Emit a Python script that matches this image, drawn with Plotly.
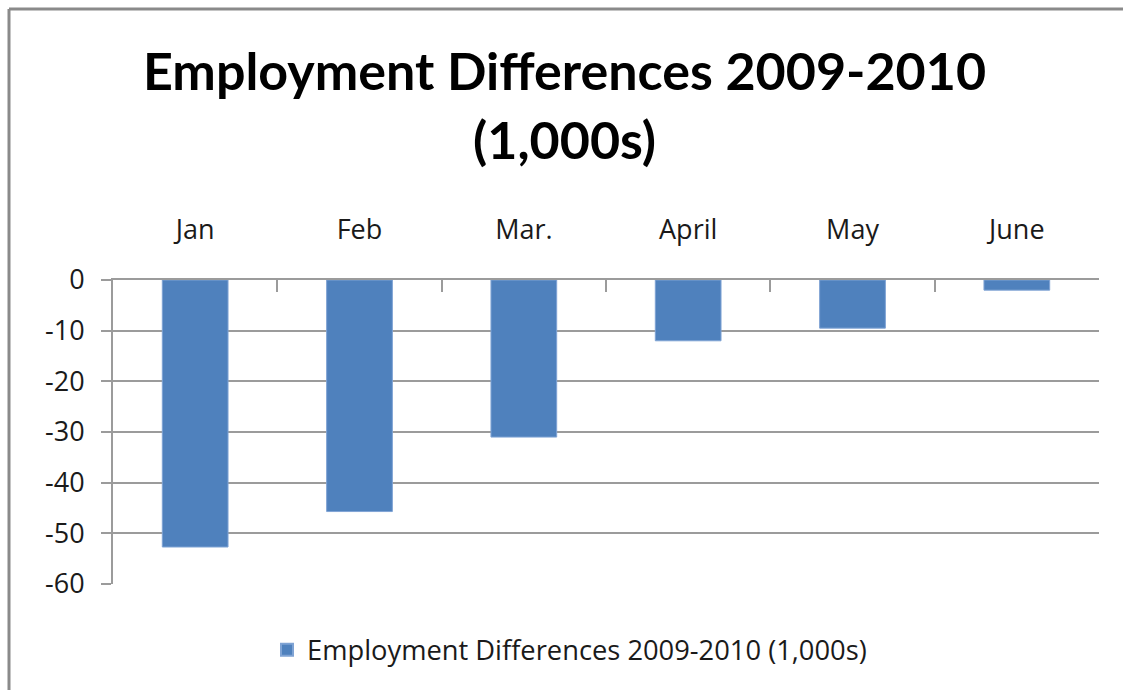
import plotly.graph_objects as go

months = ["Jan", "Feb", "Mar.", "April", "May", "June"]
differences = [-52.7, -45.7, -31.0, -12.0, -9.5, -2.0]
series_name = "Employment Differences 2009-2010 (1,000s)"
y_ticks = [0, -10, -20, -30, -40, -50, -60]

W, H = 1123, 690
L, R, T, B = 113, 24, 280, 106
plot_w = W - L - R
plot_h = H - T - B

def px_x(x):
    return (x - L) / plot_w

def px_y(y):
    return (H - B - y) / plot_h

fig = go.Figure()
fig.add_trace(go.Bar(
    x=months,
    y=differences,
    name=series_name,
    marker=dict(color="#4F81BD", line=dict(color="#7FA3D4", width=1)),
    showlegend=True,
))

grid_col = "#9b9b9b"
fig.update_layout(
    width=W,
    height=H,
    margin=dict(l=L, r=R, t=T, b=B),
    paper_bgcolor="white",
    plot_bgcolor="white",
    font=dict(family="Open Sans", color="#1a1a1a", size=27),
    bargap=0.6,
    showlegend=True,
    legend=dict(
        orientation="h",
        x=px_x(267), xanchor="left",
        y=px_y(650), yanchor="middle",
        font=dict(size=27.3, family="Open Sans", color="#1a1a1a"),
        itemsizing="constant",
    ),
    xaxis=dict(
        side="top",
        type="category",
        showline=True, linecolor=grid_col, linewidth=2,
        ticks="inside", tickson="boundaries", ticklen=12,
        tickcolor=grid_col, tickwidth=2,
        ticklabelstandoff=28,
        tickfont=dict(size=27),
        showgrid=False,
        fixedrange=True,
    ),
    yaxis=dict(
        range=[-60, 0],
        tickvals=y_ticks,
        ticktext=[str(v) for v in y_ticks],
        showline=True, linecolor=grid_col, linewidth=2,
        ticks="outside", ticklen=10, tickcolor=grid_col, tickwidth=2,
        showgrid=True, gridcolor=grid_col, gridwidth=2,
        zeroline=False,
        tickfont=dict(size=27),
        ticklabelstandoff=11,
        fixedrange=True,
    ),
    shapes=[
        dict(type="line", xref="paper", yref="paper",
             x0=px_x(9), x1=px_x(W + 5), y0=px_y(9), y1=px_y(9),
             line=dict(color="#8a8a8a", width=3)),
        dict(type="line", xref="paper", yref="paper",
             x0=px_x(9), x1=px_x(9), y0=px_y(9), y1=px_y(H + 5),
             line=dict(color="#8a8a8a", width=3)),
    ],
    annotations=[
        dict(text="<b>Employment Differences 2009-2010</b>", xref="paper", yref="paper",
             x=px_x(564), y=px_y(70), xanchor="center", yanchor="middle",
             showarrow=False, font=dict(family="Lato", size=52, color="#000000")),
        dict(text="<b>(1,000s)</b>", xref="paper", yref="paper",
             x=px_x(564), y=px_y(139), xanchor="center", yanchor="middle",
             showarrow=False, font=dict(family="Lato", size=52, color="#000000")),
    ],
)

fig.write_html("out.html")
